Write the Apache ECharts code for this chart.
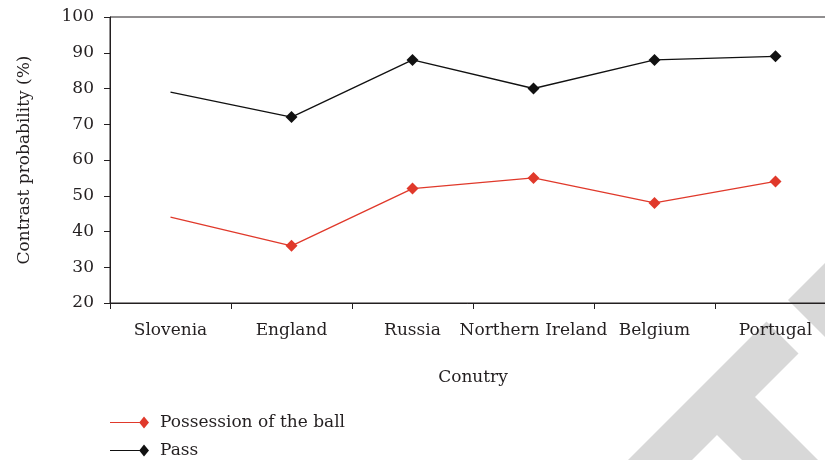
<!DOCTYPE html>
<html>
<head>
<meta charset="utf-8">
<script src="https://cdn.jsdelivr.net/npm/echarts@6/dist/echarts.min.js"></script>
<style>
  html, body { margin: 0; padding: 0; background: #fff; }
  #chart { width: 825px; height: 460px; }
</style>
</head>
<body>
<div id="chart"></div>
<script>
// Countries along the x axis
const countries = ['Slovenia', 'England', 'Russia', 'Northern Ireland', 'Belgium', 'Portugal'];
// Contrast probability (%) per country
const possession = [44, 36, 52, 55, 48, 54];
const pass = [79, 72, 88, 80, 88, 89];
// Y axis range and step
const yTicks = { min: 20, max: 100, step: 10 };

const FONT = 'DejaVu Serif';
const INK = '#231f20';
const RED = '#e0392b';
const BLACK = '#111111';

// first point of each line is drawn without a marker
function withBareStart(values) {
  return values.map((v, i) => i === 0 ? { value: v, symbol: 'none' } : v);
}

// legend glyph: a short line ending in a diamond
const legendIcon = 'path://M0 5.45 L29.6 5.45 L34 0 L39 6 L34 12 L29.6 6.55 L0 6.55 Z';

const legendBase = {
  orient: 'vertical',
  left: 110,
  padding: 0,
  itemWidth: 39, itemHeight: 12,
  icon: legendIcon,
  textStyle: { fontFamily: FONT, fontSize: 17, color: INK, padding: [0, 0, 0, 6] }
};

const chart = echarts.init(document.getElementById('chart'), null, { renderer: 'canvas' });

chart.setOption({
  animation: false,
  backgroundColor: '#ffffff',
  textStyle: { fontFamily: FONT, color: INK },
  // light grey "T" watermark in the lower right corner
  graphic: [
    {
      type: 'polygon', z: -10, silent: true,
      shape: { points: [[766.5, 321.5], [798.5, 353.5], [755, 397], [879, 521], [841, 559], [717, 435], [626, 526], [594, 494]] },
      style: { fill: '#d8d8d8' }
    },
    {
      type: 'polygon', z: -10, silent: true,
      shape: { points: [[788, 300], [900, 188], [950, 238], [900, 412]] },
      style: { fill: '#d8d8d8' }
    }
  ],
  grid: {
    left: 110, width: 726, top: 17, height: 286,
    outerBoundsMode: 'none',
    containLabel: false,
    show: true, borderColor: INK, borderWidth: 1, backgroundColor: 'transparent'
  },
  legend: [
    Object.assign({ top: 414, data: ['Possession of the ball'] }, legendBase),
    Object.assign({ top: 442, data: ['Pass'] }, legendBase)
  ],
  xAxis: {
    type: 'category',
    data: countries,
    boundaryGap: true,
    name: 'Conutry',
    nameLocation: 'middle',
    nameGap: 66,
    nameTextStyle: { fontFamily: FONT, fontSize: 17, color: INK },
    axisLine: { lineStyle: { color: INK, width: 1 } },
    axisTick: { show: true, length: 6, inside: false, lineStyle: { color: INK } },
    axisLabel: { fontFamily: FONT, fontSize: 17, color: INK, margin: 19, interval: 0 },
    splitLine: { show: false }
  },
  yAxis: {
    type: 'value',
    min: yTicks.min, max: yTicks.max, interval: yTicks.step,
    name: 'Contrast probability (%)',
    nameLocation: 'middle',
    nameGap: 77,
    nameTextStyle: { fontFamily: FONT, fontSize: 17, color: INK },
    axisLine: { show: true, lineStyle: { color: INK, width: 1 } },
    axisTick: { show: true, length: 6, inside: false, lineStyle: { color: INK } },
    axisLabel: { fontFamily: FONT, fontSize: 17, color: INK, margin: 16 },
    splitLine: { show: false }
  },
  series: [
    {
      name: 'Possession of the ball',
      type: 'line',
      data: withBareStart(possession),
      symbol: 'diamond', symbolSize: 12,
      color: RED,
      lineStyle: { color: RED, width: 1.3 },
      itemStyle: { color: RED }
    },
    {
      name: 'Pass',
      type: 'line',
      data: withBareStart(pass),
      symbol: 'diamond', symbolSize: 12,
      color: BLACK,
      lineStyle: { color: BLACK, width: 1.3 },
      itemStyle: { color: BLACK }
    }
  ]
});
</script>
</body>
</html>
